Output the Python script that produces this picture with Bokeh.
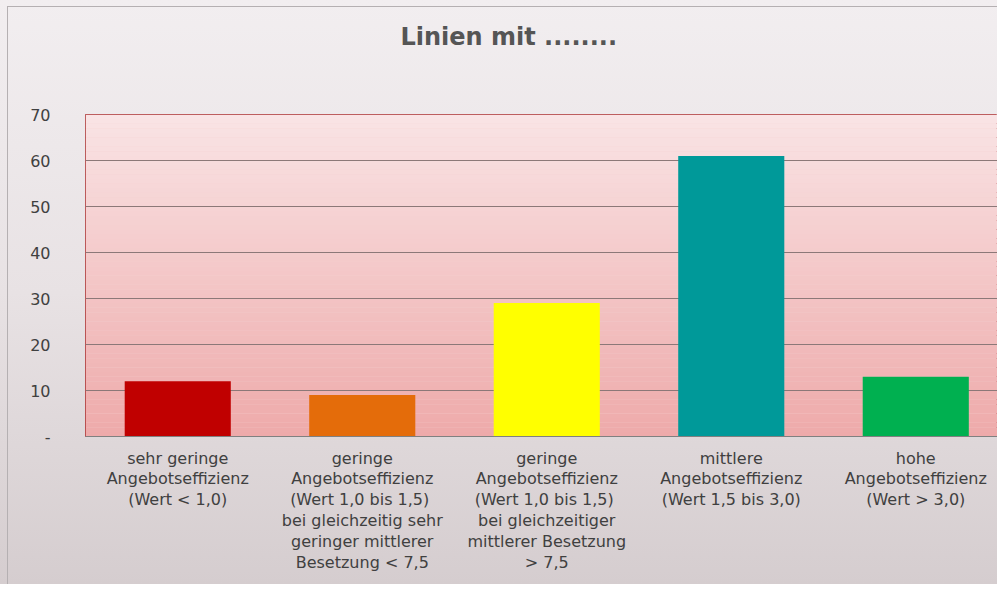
from bokeh.plotting import figure
from bokeh.models import Range1d, FixedTicker, BoxAnnotation, ColumnDataSource, Title
from bokeh.embed import file_html
from bokeh.resources import INLINE

# ---- data ----
categories = [
    "sehr geringe\nAngebotseffizienz\n(Wert < 1,0)",
    "geringe\nAngebotseffizienz\n(Wert 1,0 bis  1,5)\nbei gleichzeitig sehr\ngeringer mittlerer\nBesetzung < 7,5",
    "geringe\nAngebotseffizienz\n(Wert 1,0 bis  1,5)\nbei gleichzeitiger\nmittlerer Besetzung\n> 7,5",
    "mittlere\nAngebotseffizienz\n(Wert 1,5 bis 3,0)",
    "hohe\nAngebotseffizienz\n(Wert > 3,0)",
]
values = [12, 9, 29, 61, 13]
bar_colors = ["#c00000", "#e46c0a", "#ffff00", "#009999", "#00b050"]
y_ticks = [0, 10, 20, 30, 40, 50, 60, 70]
y_tick_labels = ["-", "10", "20", "30", "40", "50", "60", "70"]
title_text = "Linien mit ........"

FONT = "DejaVu Sans"

p = figure(width=997, height=584, output_backend="svg", toolbar_location=None,
           x_range=Range1d(-0.5, 4.443), y_range=Range1d(0, 70),
           min_border_left=85, min_border_top=114, min_border_bottom=148,
           min_border_right=0)

line_c = "#b5b0b2"
p.styles = {"background":
            f"linear-gradient({line_c},{line_c}) 7px 6px / 1px 100% no-repeat, "
            f"linear-gradient({line_c},{line_c}) 7px 6px / 100% 1px no-repeat, "
            "linear-gradient(to bottom, #f2eef0 0%, #e8e2e4 50%, #d5cdcf 100%)"}
p.border_fill_alpha = 0
p.background_fill_color = "#f4d0d0"
p.outline_line_color = "#a83232"
p.outline_line_width = 1

# frame gradient (style only)
def lerp(c1, c2, t):
    return "#%02x%02x%02x" % tuple(int(round(a + (b - a) * t)) for a, b in zip(c1, c2))

top_c = (249, 228, 229)
bot_c = (238, 170, 170)
n_bands = 70
for i in range(n_bands):
    t = 1 - (i + 0.5) / n_bands
    p.add_layout(BoxAnnotation(bottom=70 * i / n_bands, top=70 * (i + 1) / n_bands,
                               fill_color=lerp(top_c, bot_c, t), fill_alpha=1,
                               line_color=None, level="image"))

src = ColumnDataSource(dict(x=list(range(len(values))), top=values, color=bar_colors))
p.vbar(x="x", top="top", width=0.575, bottom=0, color="color", source=src, line_color=None)

# grid
p.xgrid.grid_line_color = None
p.ygrid.ticker = FixedTicker(ticks=y_ticks)
p.ygrid.grid_line_color = "#8c7878"
p.ygrid.grid_line_width = 1

# y axis
p.yaxis.ticker = FixedTicker(ticks=y_ticks)
p.yaxis.major_label_overrides = {t: l for t, l in zip(y_ticks, y_tick_labels)}
p.yaxis.axis_line_color = None
p.yaxis.major_tick_line_color = None
p.yaxis.minor_tick_line_color = None
p.yaxis.major_label_standoff = 29
p.yaxis.major_label_text_font = FONT
p.yaxis.major_label_text_font_size = "16px"
p.yaxis.major_label_text_color = "#404040"

# x axis
p.xaxis.ticker = FixedTicker(ticks=list(range(len(categories))))
p.xaxis.major_label_overrides = {i: c for i, c in enumerate(categories)}
p.xaxis.axis_line_color = "#808080"
p.xaxis.axis_line_width = 1
p.xaxis.major_tick_line_color = None
p.xaxis.minor_tick_line_color = None
p.xaxis.major_label_standoff = 6
p.xaxis.major_label_text_font = FONT
p.xaxis.major_label_text_font_size = "16px"
p.xaxis.major_label_text_line_height = 1.1
p.xaxis.major_label_text_color = "#404040"

# title
p.title.text = title_text
p.title.align = "left"
p.title.text_font = FONT
p.title.text_font_size = "24px"
p.title.text_font_style = "bold"
p.title.text_color = "#555555"
p.title.offset = 315
p.title.standoff = 0

# spacer between title and frame
p.add_layout(Title(text=" ", text_font_size="10px", standoff=51), "above")

open("out.html", "w").write(file_html(p, INLINE))
